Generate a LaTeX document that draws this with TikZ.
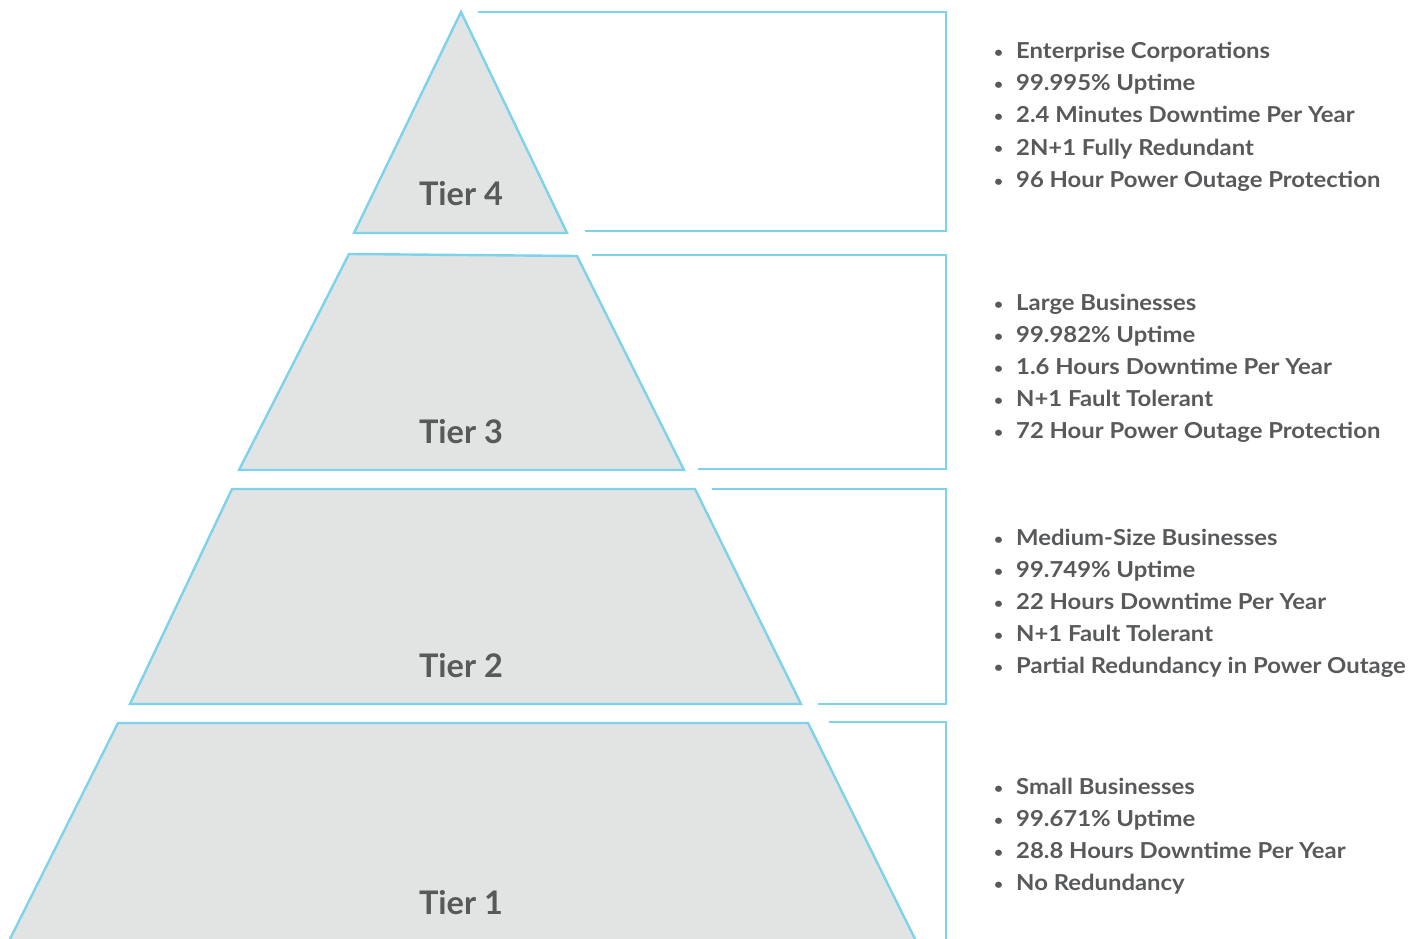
\documentclass[tikz,border=0pt]{standalone}
\usepackage{fontspec}
\setmainfont{Lato}
\newfontfamily\itemfont[FakeStretch=1.085]{Lato}
\definecolor{edge}{HTML}{7DD3EC}
\definecolor{tierfill}{HTML}{E2E3E3}
\definecolor{txt}{HTML}{58595B}
\newcommand{\blt}{\makebox[22pt][l]{\raisebox{1pt}{\scalebox{0.65}{•}}}}
\begin{document}
\begin{tikzpicture}[x=1pt,y=-1pt,
  tier/.style={draw=edge,fill=tierfill,line width=2.4pt,line join=miter},
  bracket/.style={draw=edge,line width=2.4pt},
  tierlabel/.style={font=\bfseries\fontsize{32.5}{32}\selectfont,text=txt,inner sep=0pt,anchor=base},
  item/.style={font=\itemfont\bfseries\fontsize{22}{24}\selectfont,text=txt,inner sep=0pt,anchor=base west}]
\useasboundingbox (0,0) rectangle (1424,939);
\clip (0,0) rectangle (1424,939);
% tiers
\draw[tier] (461,12) -- (567,233) -- (354,233) -- cycle;
\draw[tier] (349,254) -- (577,256) -- (684,470) -- (239,470) -- cycle;
\draw[tier] (232,489) -- (695,489) -- (801,704) -- (130,704) -- cycle;
\draw[tier] (118,723) -- (808,723) -- (918,945) -- (7,945) -- cycle;
\node[tierlabel] (l4) at (461,205) {Tier 4};
\node[tierlabel] (l3) at (461,443) {Tier 3};
\node[tierlabel] (l2) at (461,677) {Tier 2};
\node[tierlabel] (l1) at (461,914) {Tier 1};
% brackets
\draw[bracket] (478,12) -- (946,12) -- (946,231) -- (585,231);
\draw[bracket] (592,255) -- (946,255) -- (946,469) -- (698,469);
\draw[bracket] (712,489) -- (946,489) -- (946,704) -- (818,704);
\draw[bracket] (829,722) -- (946,722) -- (946,945);
% lists
\foreach \t [count=\i] in {Enterprise Corporations,99.995\% Uptime,2.4 Minutes Downtime Per Year,2N+1 Fully Redundant,96 Hour Power Outage Protection}
  \node[item] (a\i) at (994,59+32*\i-32) {\blt\t};
\foreach \t [count=\i] in {Large Businesses,99.982\% Uptime,1.6 Hours Downtime Per Year,N+1 Fault Tolerant,72 Hour Power Outage Protection}
  \node[item] (b\i) at (994,310+32*\i-32) {\blt\t};
\foreach \t [count=\i] in {Medium-Size Businesses,99.749\% Uptime,22 Hours Downtime Per Year,N+1 Fault Tolerant,Partial Redundancy in Power Outage}
  \node[item] (c\i) at (994,545+32*\i-32) {\blt\t};
\foreach \t [count=\i] in {Small Businesses,99.671\% Uptime,28.8 Hours Downtime Per Year,No Redundancy}
  \node[item] (d\i) at (994,794+32*\i-32) {\blt\t};
\end{tikzpicture}
\end{document}
